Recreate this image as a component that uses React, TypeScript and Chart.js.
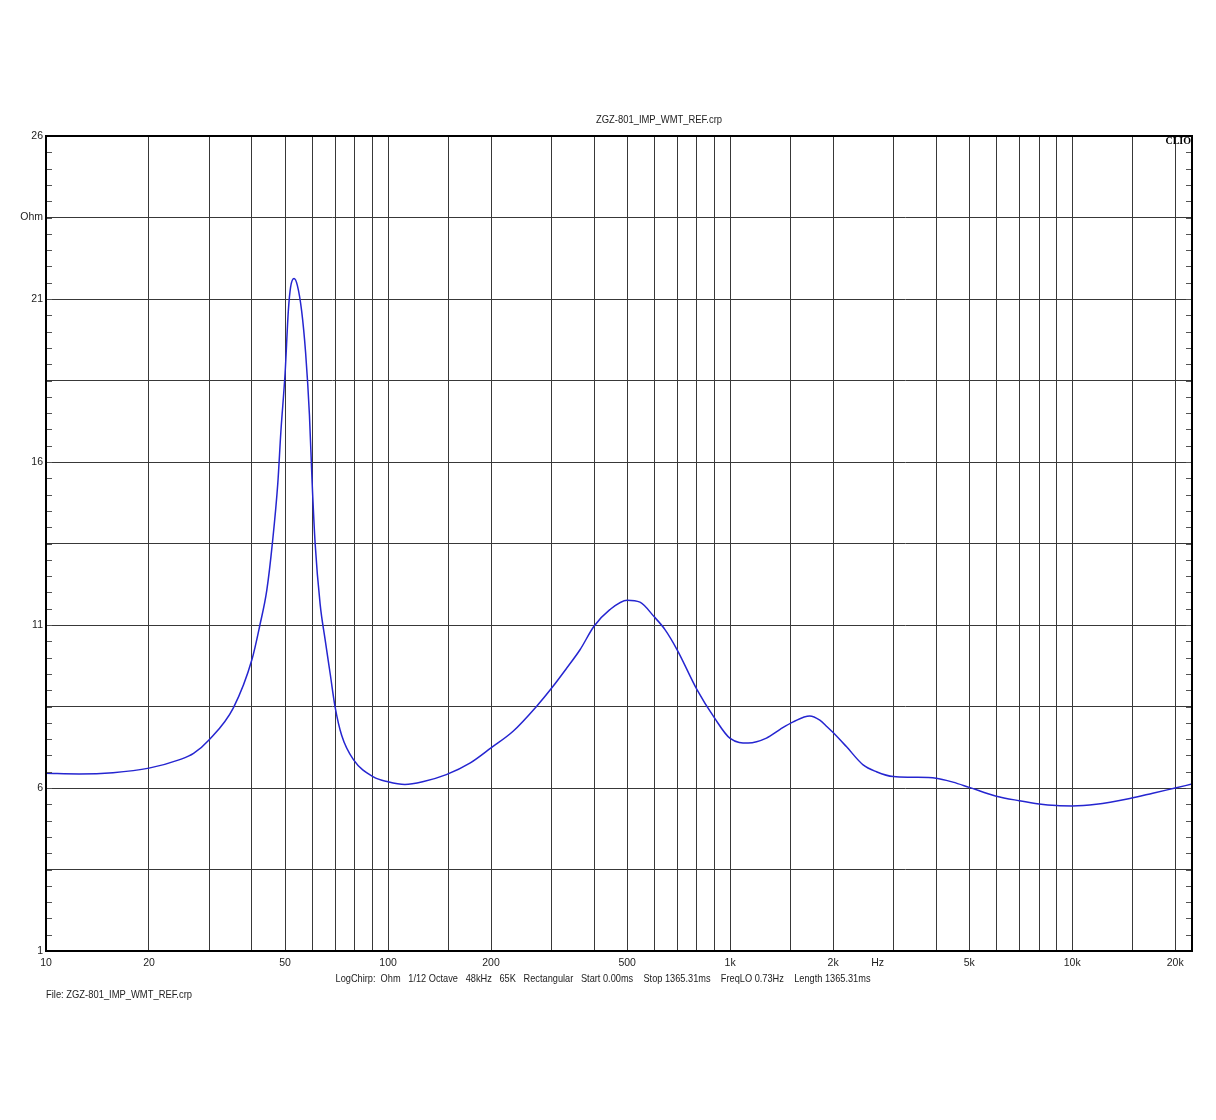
import React, { useEffect, useRef } from "react";
import { Chart, registerables } from "chart.js";

Chart.register(...registerables);

// Impedance curve (frequency in Hz, impedance in Ohm)
const FREQS = [
  10, 12.5, 15.7, 20, 24.6, 27, 30, 35.3, 40, 42.2, 44.2, 45.9, 47.6, 48.6, 50, 51.1, 51.9, 53.1,
  54.3, 55.9, 57.4, 58.9, 60, 61.2, 63.3, 65.4, 67.7, 70, 73.2, 79.2, 90.6, 100, 112, 127, 148,
  174, 200, 232, 272, 300, 333, 364, 400, 445, 500, 545, 600, 645, 700, 800, 900, 1000, 1130,
  1277, 1400, 1529, 1709, 1829, 1920, 2000, 2187, 2448, 2677, 3000, 3414, 4000, 4480, 5000, 6000,
  7000, 8000, 9000, 10000, 11750, 14740, 17200, 20000, 22400,
];
const OHMS = [
  6.45, 6.43, 6.47, 6.61, 6.87, 7.06, 7.48, 8.46, 9.94, 11.0, 12.06, 13.51, 15.34, 16.93, 18.72,
  20.63, 21.37, 21.63, 21.42, 20.63, 19.36, 17.45, 15.34, 13.51, 11.64, 10.58, 9.52, 8.49, 7.61,
  6.87, 6.34, 6.19, 6.11, 6.2, 6.41, 6.77, 7.23, 7.74, 8.51, 9.05, 9.68, 10.24, 10.96, 11.47,
  11.76, 11.7, 11.25, 10.86, 10.24, 9.02, 8.15, 7.52, 7.38, 7.53, 7.8, 8.03, 8.21, 8.08, 7.88,
  7.7, 7.27, 6.71, 6.5, 6.35, 6.33, 6.3, 6.18, 6.02, 5.75, 5.61, 5.51, 5.46, 5.45, 5.5, 5.68,
  5.84, 6.0, 6.12,
];

const X_MIN = 10;
const X_MAX = 22400;
const Y_MIN = 1;
const Y_MAX = 26;

const X_TICK_VALUES = [10, 20, 50, 100, 200, 500, 1000, 2000, 5000, 10000, 20000];
const X_TICK_LABELS = ["10", "20", "50", "100", "200", "500", "1k", "2k", "5k", "10k", "20k"];
const X_UNIT_VALUE = 2700;
const X_UNIT_LABEL = "Hz";
const Y_TICK_VALUES = [26, 23.5, 21, 16, 11, 6, 1];
const Y_TICK_LABELS = ["26", "Ohm", "21", "16", "11", "6", "1"];

const TITLE = "ZGZ-801_IMP_WMT_REF.crp";
const BRAND = "CLIO";
const FOOTER =
  "LogChirp:  Ohm   1/12 Octave   48kHz   65K   Rectangular   Start 0.00ms    Stop 1365.31ms    FreqLO 0.73Hz    Length 1365.31ms";
const FILE_LABEL = "File: ZGZ-801_IMP_WMT_REF.crp";

const FONT = "'Liberation Sans', Arial, sans-serif";

const decorPlugin = {
  id: "clioDecor",
  afterDraw(chart: any) {
    const { ctx, chartArea, scales } = chart;
    const xs = scales.x;
    const ys = scales.y;
    const { left, right, top, bottom } = chartArea;
    ctx.save();

    // minor ticks every 0.5 Ohm
    ctx.strokeStyle = "#555";
    ctx.lineWidth = 1;
    for (let i = 0; i <= (Y_MAX - Y_MIN) * 2; i++) {
      const v = Y_MIN + i * 0.5;
      const py = Math.round(ys.getPixelForValue(v)) + 0.5;
      ctx.beginPath();
      ctx.moveTo(left, py);
      ctx.lineTo(left + 6, py);
      ctx.moveTo(right - 6, py);
      ctx.lineTo(right, py);
      ctx.stroke();
    }

    // frame
    ctx.strokeStyle = "#000";
    ctx.lineWidth = 2;
    ctx.strokeRect(left, top, right - left, bottom - top);

    ctx.fillStyle = "#222";
    ctx.font = `10.5px ${FONT}`;

    // y labels
    ctx.textAlign = "right";
    ctx.textBaseline = "middle";
    Y_TICK_VALUES.forEach((v, i) => {
      ctx.fillText(Y_TICK_LABELS[i], left - 3, ys.getPixelForValue(v));
    });

    // x labels
    ctx.textAlign = "center";
    ctx.textBaseline = "middle";
    X_TICK_VALUES.forEach((v, i) => {
      ctx.fillText(X_TICK_LABELS[i], xs.getPixelForValue(v), bottom + 12);
    });
    ctx.fillText(X_UNIT_LABEL, xs.getPixelForValue(X_UNIT_VALUE), bottom + 12);

    // title
    ctx.fillText(TITLE, 659, top - 16, 126);

    // footer
    ctx.fillText(FOOTER, 603, bottom + 28, 535);

    // file label
    ctx.textAlign = "left";
    ctx.fillText(FILE_LABEL, left, bottom + 44, 146);

    // brand
    ctx.fillStyle = "#000";
    ctx.font = `bold 10px 'Liberation Serif', 'DejaVu Serif', serif`;
    ctx.textAlign = "right";
    ctx.fillText(BRAND, right - 1, top + 5);

    ctx.restore();
  },
};

export default function App() {
  const canvasRef = useRef<HTMLCanvasElement | null>(null);

  useEffect(() => {
    const canvas = canvasRef.current;
    if (!canvas) return;
    const points = FREQS.map((f, i) => ({ x: f, y: OHMS[i] }));
    const chart = new Chart(canvas, {
      type: "line",
      data: {
        datasets: [
          {
            data: points,
            borderColor: "#2525d0",
            borderWidth: 1.5,
            pointRadius: 0,
            fill: false,
            cubicInterpolationMode: "monotone",
          },
        ],
      },
      options: {
        animation: false,
        responsive: false,
        maintainAspectRatio: false,
        layout: { padding: { left: 46, right: 24, top: 136, bottom: 169 } },
        plugins: {
          legend: { display: false },
          tooltip: { enabled: false },
          title: { display: false },
        },
        scales: {
          x: {
            type: "logarithmic",
            min: X_MIN,
            max: X_MAX,
            ticks: { display: false },
            grid: { color: "#383838", lineWidth: 1, drawTicks: false },
            border: { display: false },
          },
          y: {
            type: "linear",
            min: Y_MIN,
            max: Y_MAX,
            ticks: { display: false, stepSize: 2.5 },
            grid: { color: "#383838", lineWidth: 1, drawTicks: false },
            border: { display: false },
          },
        },
      },
      plugins: [decorPlugin],
    } as any);
    return () => chart.destroy();
  }, []);

  return (
    <div style={{ position: "fixed", left: 0, top: 0, width: 1216, height: 1120, background: "#fff" }}>
      <canvas ref={canvasRef} width={1216} height={1120} style={{ width: 1216, height: 1120, display: "block" }} />
    </div>
  );
}
